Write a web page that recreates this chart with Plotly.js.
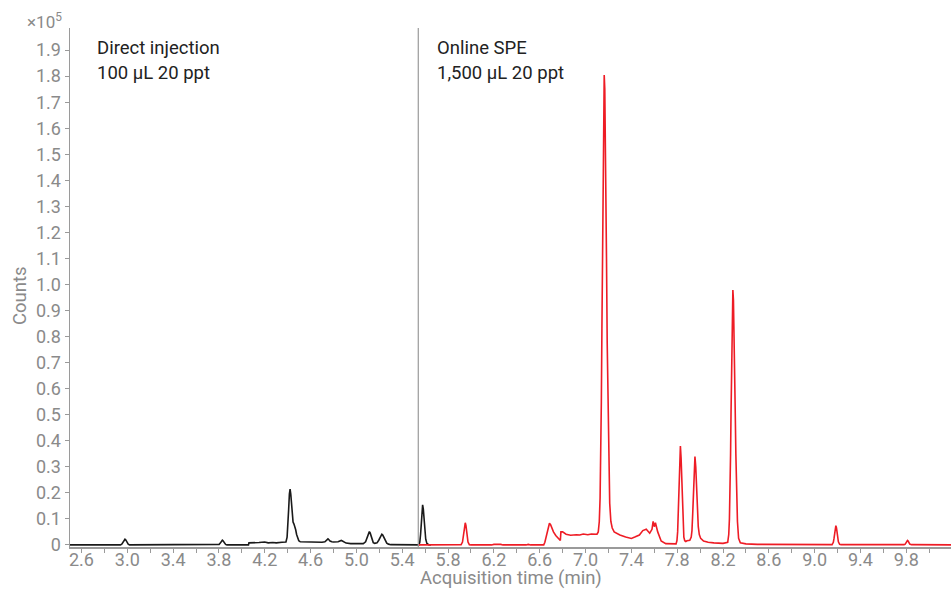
<!DOCTYPE html>
<html>
<head>
<meta charset="utf-8">
<script src="https://cdn.plot.ly/plotly-3.0.1.min.js"></script>
<style>html,body{margin:0;padding:0;background:#fff;}#chart{width:951px;height:590px;}</style>
</head>
<body>
<div id="chart"></div>
<script>
// Direct injection trace (time in min, counts in x10^5)
const directTime = [2.50,2.940,2.952,2.960,2.967,2.974,2.980,2.986,2.993,3.000,3.008,3.020,
  3.790,3.802,3.810,3.817,3.824,3.830,3.836,3.843,3.850,3.858,3.870,
  4.058,4.062,4.10,4.15,4.20,4.23,4.27,4.30,4.35,4.385,4.395,4.402,4.409,4.415,4.421,4.427,4.433,4.440,4.447,4.455,4.462,4.470,4.478,4.487,4.497,4.51,4.55,4.60,4.70,
  4.725,4.735,4.745,4.752,4.760,4.770,4.785,4.80,4.84,4.855,4.868,4.878,4.89,4.91,4.95,5.06,
  5.080,5.090,5.100,5.107,5.113,5.120,5.128,5.137,5.147,5.16,5.18,5.195,5.207,5.215,5.222,5.230,5.240,5.252,5.265,5.28,5.30,
  5.545,5.553,5.560,5.566,5.572,5.578,5.584,5.590,5.597,5.605,5.615,5.63,5.65];
const directCounts = [0,0,0.003,0.008,0.014,0.020,0.022,0.020,0.014,0.008,0.003,0,
  0,0.002,0.006,0.012,0.017,0.018,0.016,0.011,0.006,0.002,0,
  0,0.008,0.008,0.009,0.011,0.008,0.009,0.008,0.010,0.011,0.030,0.070,0.140,0.195,0.214,0.195,0.150,0.110,0.088,0.080,0.072,0.058,0.040,0.025,0.016,0.012,0.011,0.010,0.010,
  0.012,0.017,0.022,0.023,0.020,0.015,0.012,0.011,0.012,0.014,0.017,0.015,0.011,0.007,0.005,0.005,
  0.012,0.025,0.040,0.049,0.051,0.046,0.033,0.018,0.009,0.006,0.008,0.018,0.030,0.038,0.041,0.038,0.028,0.015,0.007,0.003,0.001,
  0,0.010,0.040,0.090,0.138,0.154,0.138,0.100,0.055,0.022,0.006,0.001,0];

// Online SPE trace
const speTime = [5.54,5.914,5.926,5.932,5.938,5.944,5.950,5.956,5.962,5.968,5.974,5.986,6.00,
  6.18,6.20,6.26,6.28,6.48,6.50,6.52,
  6.635,6.645,6.655,6.665,6.675,6.685,6.695,6.705,6.72,6.74,6.76,6.78,6.785,6.80,6.83,6.87,6.92,6.95,6.98,7.02,7.05,7.10,
  7.111,7.120,7.127,7.133,7.138,7.143,7.148,7.153,7.158,7.163,7.168,7.173,7.178,7.183,7.189,7.195,7.203,7.211,7.221,7.233,
  7.25,7.30,7.35,7.40,7.43,7.47,7.50,7.53,7.56,7.58,7.59,7.60,7.61,7.63,7.66,7.70,7.79,
  7.798,7.804,7.810,7.816,7.822,7.828,7.834,7.840,7.846,7.852,7.858,7.866,7.875,7.885,
  7.910,7.9225,7.929,7.9355,7.942,7.9485,7.955,7.962,7.969,7.976,7.984,7.993,8.005,8.03,8.07,8.12,8.20,
  8.241,8.250,8.256,8.261,8.266,8.270,8.274,8.278,8.282,8.286,8.291,8.296,8.301,8.306,8.312,8.318,8.326,8.336,8.351,8.40,8.50,
  9.152,9.163,9.1685,9.174,9.1795,9.185,9.1905,9.196,9.2015,9.207,9.218,9.23,
  9.78,9.79,9.797,9.804,9.810,9.816,9.823,9.830,9.845,10.19];
const speCounts = [0,0.001,0.011,0.027,0.052,0.075,0.085,0.075,0.052,0.027,0.011,0.001,0,
  0,0.002,0.002,0,0,0.002,0,
  0,0.010,0.030,0.055,0.075,0.083,0.078,0.066,0.050,0.036,0.025,0.017,0.050,0.050,0.041,0.037,0.039,0.038,0.042,0.039,0.042,0.041,
  0.050,0.090,0.180,0.340,0.550,0.830,1.160,1.480,1.720,1.804,1.750,1.590,1.360,1.100,0.780,0.560,0.300,0.160,0.090,0.065,
  0.050,0.038,0.030,0.025,0.030,0.038,0.055,0.060,0.045,0.060,0.090,0.070,0.085,0.050,0.015,0.005,0.004,
  0.017,0.051,0.122,0.232,0.334,0.380,0.334,0.240,0.135,0.065,0.030,0.016,0.013,0.016,
  0.018,0.030,0.055,0.120,0.210,0.300,0.339,0.300,0.215,0.130,0.070,0.040,0.025,0.015,0.010,0.008,0.006,
  0.010,0.040,0.100,0.200,0.350,0.510,0.680,0.830,0.940,0.979,0.940,0.840,0.690,0.530,0.350,0.200,0.090,0.025,0.008,0.004,0.002,
  0.001,0.010,0.024,0.045,0.065,0.074,0.065,0.046,0.026,0.012,0.002,0.001,
  0.001,0.003,0.008,0.015,0.017,0.015,0.008,0.003,0.001,0];

const segmentBoundary = 5.54;

const yTickVals = [0,0.1,0.2,0.3,0.4,0.5,0.6,0.7,0.8,0.9,1.0,1.1,1.2,1.3,1.4,1.5,1.6,1.7,1.8,1.9];
const yTickText = ["0","0.1","0.2","0.3","0.4","0.5","0.6","0.7","0.8","0.9","1.0","1.1","1.2","1.3","1.4","1.5","1.6","1.7","1.8","1.9"];
const xTickVals = [2.6,3.0,3.4,3.8,4.2,4.6,5.0,5.4,5.8,6.2,6.6,7.0,7.4,7.8,8.2,8.6,9.0,9.4,9.8];
const xTickText = ["2.6","3.0","3.4","3.8","4.2","4.6","5.0","5.4","5.8","6.2","6.6","7.0","7.4","7.8","8.2","8.6","9.0","9.4","9.8"];

const gray = '#8a8a8a';
const lineGray = '#9a9a9a';
const font = 'Roboto, "Noto Sans", sans-serif';
const xRange = [2.5, 10.19];

const traces = [
  {x: directTime, y: directCounts, type: 'scatter', mode: 'lines', line: {color: '#1a1a1a', width: 1.6}, hoverinfo: 'skip'},
  {x: speTime, y: speCounts, type: 'scatter', mode: 'lines', line: {color: '#ee1c25', width: 1.6}, hoverinfo: 'skip'},
  // empty trace carrying the label-only overlay axis
  {x: [], y: [], xaxis: 'x2', yaxis: 'y', type: 'scatter', mode: 'lines', hoverinfo: 'skip', showlegend: false}
];

const layout = {
  width: 951, height: 590,
  margin: {l: 70, r: 0, t: 28, b: 43},
  paper_bgcolor: '#fff', plot_bgcolor: '#fff',
  showlegend: false,
  font: {family: font, size: 18, color: gray},
  xaxis: {
    range: xRange, showgrid: false, zeroline: false,
    showline: true, linecolor: lineGray, linewidth: 1.5,
    tickmode: 'linear', tick0: 2.6, dtick: 0.2,
    ticks: 'outside', ticklen: 4, tickcolor: lineGray, tickwidth: 1,
    showticklabels: false
  },
  xaxis2: {
    overlaying: 'x', anchor: 'free', position: 0, side: 'bottom',
    range: xRange, showgrid: false, zeroline: false, showline: false,
    tickmode: 'array', tickvals: xTickVals, ticktext: xTickText,
    ticks: '',
    tickfont: {family: font, size: 18, color: gray}
  },
  yaxis: {
    range: [-0.008, 1.985], showgrid: false, zeroline: false,
    showline: true, linecolor: lineGray, linewidth: 1.5,
    tickmode: 'array', tickvals: yTickVals, ticktext: yTickText,
    ticks: 'outside', ticklen: 4, tickcolor: lineGray, tickwidth: 1,
    tickfont: {family: font, size: 18, color: gray}
  },
  shapes: [
    {type: 'line', xref: 'x', yref: 'paper', x0: segmentBoundary, x1: segmentBoundary, y0: 0, y1: 1, line: {color: lineGray, width: 1.2}}
  ],
  annotations: [
    {xref: 'paper', yref: 'paper', x: 0, y: 1, xanchor: 'right', yanchor: 'bottom', xshift: -6, yshift: -6, showarrow: false, text: '×10<sup>5</sup>', font: {family: font, size: 17, color: gray}},
    {xref: 'paper', yref: 'paper', x: 0.5, y: -0.0597, xanchor: 'center', yanchor: 'middle', showarrow: false, text: 'Acquisition time (min)', font: {family: font, size: 18.5, color: gray}},
    {xref: 'paper', yref: 'paper', x: -0.0568, y: 0.4855, xanchor: 'center', yanchor: 'middle', textangle: -90, showarrow: false, text: 'Counts', font: {family: font, size: 18.5, color: gray}},
    {xref: 'paper', yref: 'paper', x: 0.0284, y: 0.961, xanchor: 'left', yanchor: 'middle', showarrow: false, text: 'Direct injection', font: {family: font, size: 18.5, color: '#222'}},
    {xref: 'paper', yref: 'paper', x: 0.0284, y: 0.913, xanchor: 'left', yanchor: 'middle', showarrow: false, text: '100 µL 20 ppt', font: {family: font, size: 18.5, color: '#222'}},
    {xref: 'paper', yref: 'paper', x: 0.414, y: 0.961, xanchor: 'left', yanchor: 'middle', showarrow: false, text: 'Online SPE', font: {family: font, size: 18.5, color: '#222'}},
    {xref: 'paper', yref: 'paper', x: 0.414, y: 0.913, xanchor: 'left', yanchor: 'middle', showarrow: false, text: '1,500 µL 20 ppt', font: {family: font, size: 18.5, color: '#222'}}
  ]
};

Plotly.newPlot('chart', traces, layout, {staticPlot: true, displayModeBar: false});
</script>
</body>
</html>
